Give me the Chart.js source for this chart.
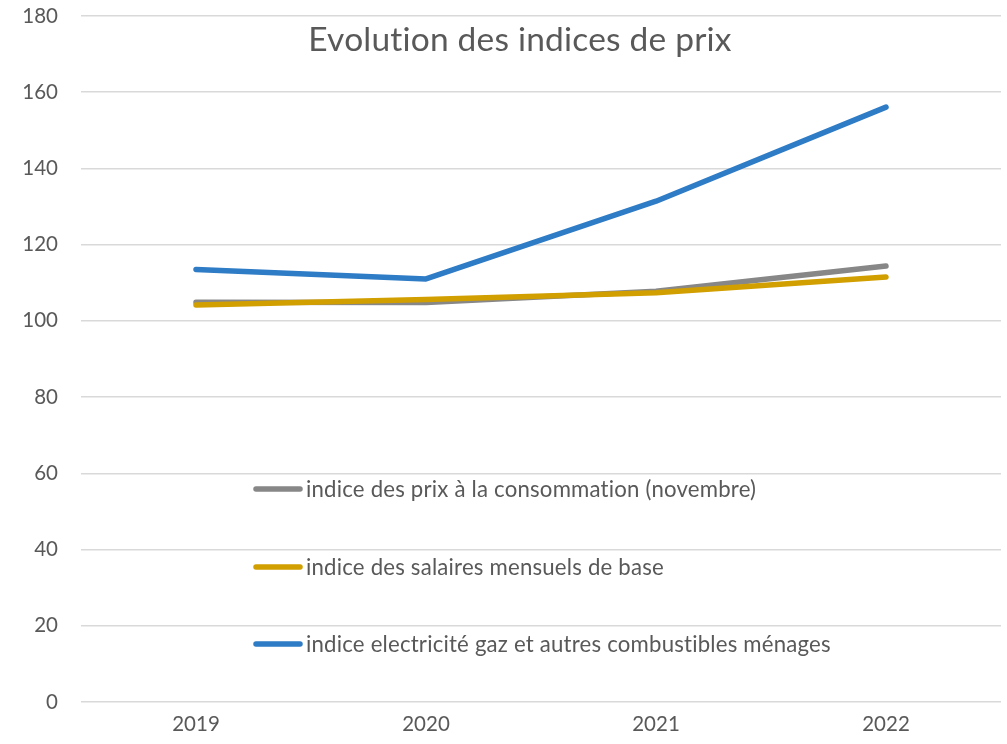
<!DOCTYPE html>
<html>
<head>
<meta charset="utf-8">
<script src="https://cdn.jsdelivr.net/npm/chart.js@4/dist/chart.umd.min.js"></script>
<style>
html,body{margin:0;padding:0;background:#fff;}
#wrap{width:1007px;height:744px;position:relative;}
</style>
</head>
<body>
<div id="wrap"><canvas id="c" width="1007" height="744"></canvas></div>
<script>
const years = ["2019", "2020", "2021", "2022"];
const prixConso = [104.9, 104.8, 107.8, 114.4];
const salaires = [104.2, 105.6, 107.4, 111.5];
const electricite = [113.5, 111.0, 131.4, 156.1];
const seriesLabels = [
  "indice des prix à la consommation (novembre)",
  "indice des salaires mensuels de base",
  "indice electricité gaz et autres combustibles ménages"
];
const titleText = "Evolution des indices de prix";
const yTicks = [0, 20, 40, 60, 80, 100, 120, 140, 160, 180];

const FONT = "Lato";
const TXT = "#595959";
const colors = ["#878787", "#D29F00", "#2E7BC6"];

const overlay = {
  id: "overlay",
  afterDraw(chart) {
    const ctx = chart.ctx;
    ctx.save();
    try { ctx.letterSpacing = "0.2px"; } catch (e) {}
    // title
    ctx.fillStyle = TXT;
    ctx.font = "33.5px " + FONT;
    ctx.textAlign = "center";
    ctx.textBaseline = "middle";
    ctx.fillText(titleText, 520, 40);
    // legend
    ctx.font = "22.2px " + FONT;
    ctx.textAlign = "left";
    const ys = [489, 567, 644];
    chart.data.datasets.forEach((ds) => {
      const y = ys[ds.legendIndex];
      ctx.strokeStyle = ds.borderColor;
      ctx.lineWidth = 5.5;
      ctx.lineCap = "round";
      ctx.beginPath();
      ctx.moveTo(256, y);
      ctx.lineTo(300, y);
      ctx.stroke();
      ctx.fillStyle = TXT;
      ctx.fillText(ds.label, 306, y + 1);
    });
    ctx.restore();
  }
};

new Chart(document.getElementById("c"), {
  type: "line",
  data: {
    labels: years,
    datasets: [
      { label: seriesLabels[0], data: prixConso, borderColor: colors[0], legendIndex: 0, order: 3 },
      { label: seriesLabels[1], data: salaires, borderColor: colors[1], legendIndex: 1, order: 2 },
      { label: seriesLabels[2], data: electricite, borderColor: colors[2], legendIndex: 2, order: 1 }
    ].map(d => Object.assign(d, {
      borderWidth: 5.5, pointRadius: 0, pointHoverRadius: 0, fill: false,
      tension: 0, borderCapStyle: "round", borderJoinStyle: "round"
    }))
  },
  options: {
    responsive: false,
    animation: false,
    layout: { padding: { top: 16, right: 6, left: 0, bottom: 0 } },
    plugins: { legend: { display: false }, title: { display: false }, tooltip: { enabled: false } },
    scales: {
      x: {
        offset: true,
        grid: { display: false, drawTicks: false },
        border: { display: false },
        ticks: { color: TXT, font: { family: FONT, size: 20.5 }, padding: 10, maxRotation: 0 },
        afterFit(s) { s.height = 42; s.paddingLeft = 0; s.paddingRight = 0; }
      },
      y: {
        min: 0, max: 180,
        afterBuildTicks(s) { s.ticks = yTicks.map(v => ({ value: v })); },
        grid: { color: "#d9d9d9", lineWidth: 1.5, drawTicks: false },
        border: { display: false },
        ticks: { color: TXT, font: { family: FONT, size: 20.5 }, padding: 23 },
        afterFit(s) { s.width = 81; s.paddingTop = 0; s.paddingBottom = 0; }
      }
    }
  },
  plugins: [overlay]
});
</script>
</body>
</html>
